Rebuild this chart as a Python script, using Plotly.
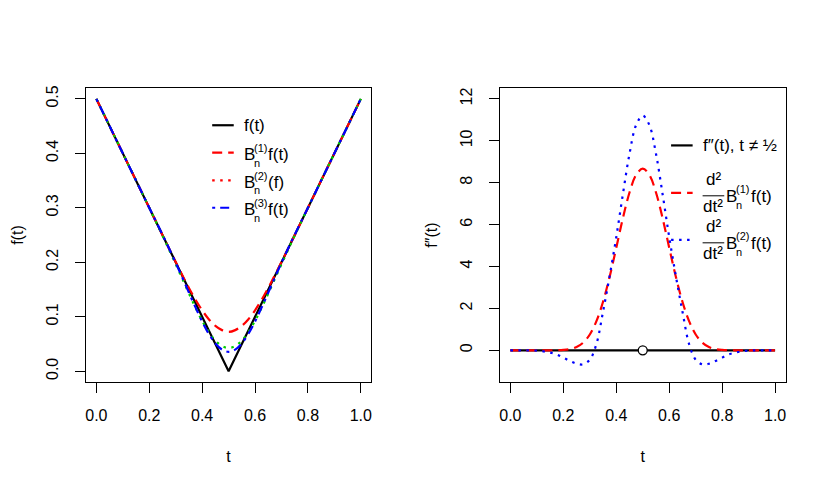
import plotly.graph_objects as go

# ---------------- data ----------------
t_f = [0.0, 0.5, 1.0]
f_vals = [0.5, 0.0, 0.5]

t_b = [0.0, 0.05, 0.1, 0.15, 0.2, 0.25, 0.275, 0.3, 0.325, 0.35, 0.375, 0.4, 0.425, 0.45, 0.475,
       0.5,
       0.525, 0.55, 0.575, 0.6, 0.625, 0.65, 0.675, 0.7, 0.725, 0.75, 0.8, 0.85, 0.9, 0.95, 1.0]
b1_vals = [0.5, 0.45, 0.4, 0.35, 0.3, 0.2501, 0.2251, 0.2005, 0.1763, 0.1530, 0.1313, 0.1119, 0.0956, 0.0833, 0.0755,
           0.0722,
           0.0755, 0.0833, 0.0956, 0.1119, 0.1313, 0.1530, 0.1763, 0.2005, 0.2251, 0.2501, 0.3, 0.35, 0.4, 0.45, 0.5]
b2_vals = [0.5, 0.45, 0.4, 0.35, 0.2999, 0.2491, 0.2230, 0.1965, 0.1696, 0.1427, 0.1167, 0.0928, 0.0722, 0.0563, 0.0462,
           0.0427,
           0.0462, 0.0563, 0.0722, 0.0928, 0.1167, 0.1427, 0.1696, 0.1965, 0.2230, 0.2491, 0.2999, 0.35, 0.4, 0.45, 0.5]
b3_vals = [0.5, 0.45, 0.4, 0.35, 0.3, 0.2509, 0.2254, 0.1993, 0.1721, 0.1444, 0.1172, 0.0914, 0.0688, 0.0511, 0.0398,
           0.0357,
           0.0398, 0.0511, 0.0688, 0.0914, 0.1172, 0.1444, 0.1721, 0.1993, 0.2254, 0.2509, 0.3, 0.35, 0.4, 0.45, 0.5]

t_d = [0.0, 0.025, 0.05, 0.075, 0.1, 0.125, 0.15, 0.175, 0.2, 0.225, 0.25, 0.275, 0.3, 0.325, 0.35, 0.375, 0.4, 0.425, 0.45, 0.475,
       0.5,
       0.525, 0.55, 0.575, 0.6, 0.625, 0.65, 0.675, 0.7, 0.725, 0.75, 0.775, 0.8, 0.825, 0.85, 0.875, 0.9, 0.925, 0.95, 0.975, 1.0]
d2b1_vals = [0.0, 0.0, 0.0, 0.0, 0.0, 0.0, 0.0007, 0.004, 0.017, 0.056, 0.154, 0.365, 0.755, 1.392, 2.316, 3.513, 4.896, 6.305, 7.532, 8.372,
             8.67,
             8.372, 7.532, 6.305, 4.896, 3.513, 2.316, 1.392, 0.755, 0.365, 0.154, 0.056, 0.017, 0.004, 0.0007, 0.0, 0.0, 0.0, 0.0, 0.0, 0.0]
d2b2_vals = [0.0, 0.0, 0.0, -0.005, -0.015, -0.05, -0.11, -0.2, -0.35, -0.51, -0.64, -0.67, -0.45, 0.3, 1.85, 3.55, 5.4, 7.45, 9.38, 10.75,
             11.2,
             10.75, 9.38, 7.45, 5.4, 3.55, 1.85, 0.3, -0.45, -0.67, -0.64, -0.51, -0.35, -0.2, -0.11, -0.05, -0.015, -0.005, 0.0, 0.0, 0.0]

t_zero = [0.0, 1.0]
f2_vals = [0.0, 0.0]
t_hole = [0.5]
hole_vals = [0.0]

x_ticks = [0.0, 0.2, 0.4, 0.6, 0.8, 1.0]
x_ticktext = ["0.0", "0.2", "0.4", "0.6", "0.8", "1.0"]
y1_ticks = [0.0, 0.1, 0.2, 0.3, 0.4, 0.5]
y1_ticktext = ["0.0", "0.1", "0.2", "0.3", "0.4", "0.5"]
y2_ticks = [0, 2, 4, 6, 8, 10, 12]
y2_ticktext = ["0", "2", "4", "6", "8", "10", "12"]

# ---------------- figure ----------------
W, H = 830, 487
FONT = "Liberation Sans, Arial, Helvetica, sans-serif"
FS = 16
LFS = 17
SFS = 11
LW = 2.2
DASH = "10px,6px"
DOT = "2.5px,5.5px"
DOTDASH = "3px,5px,9px,5px"


def px(x):
    return x / W


def py(y):
    return 1 - y / H


fig = go.Figure()

# left panel
fig.add_trace(go.Scatter(x=t_f, y=f_vals, mode="lines", line=dict(color="black", width=LW),
                         xaxis="x", yaxis="y", showlegend=False))
fig.add_trace(go.Scatter(x=t_b, y=b1_vals, mode="lines", line=dict(color="red", width=LW, dash=DASH, shape="spline"),
                         xaxis="x", yaxis="y", showlegend=False))
fig.add_trace(go.Scatter(x=t_b, y=b2_vals, mode="lines", line=dict(color="#00CD00", width=LW, dash=DOT, shape="spline"),
                         xaxis="x", yaxis="y", showlegend=False))
fig.add_trace(go.Scatter(x=t_b, y=b3_vals, mode="lines", line=dict(color="blue", width=LW, dash=DOTDASH, shape="spline"),
                         xaxis="x", yaxis="y", showlegend=False))

# right panel
fig.add_trace(go.Scatter(x=t_zero, y=f2_vals, mode="lines", line=dict(color="black", width=LW),
                         xaxis="x2", yaxis="y2", showlegend=False))
fig.add_trace(go.Scatter(x=t_d, y=d2b1_vals, mode="lines", line=dict(color="red", width=LW, dash=DASH, shape="spline"),
                         xaxis="x2", yaxis="y2", showlegend=False))
fig.add_trace(go.Scatter(x=t_d, y=d2b2_vals, mode="lines", line=dict(color="blue", width=LW, dash=DOT, shape="spline"),
                         xaxis="x2", yaxis="y2", showlegend=False))
fig.add_trace(go.Scatter(x=t_hole, y=hole_vals, mode="markers",
                         marker=dict(symbol="circle", size=9, color="white", line=dict(color="black", width=1.3)),
                         xaxis="x2", yaxis="y2", showlegend=False))

axis_common = dict(showgrid=False, zeroline=False, showline=True, mirror=True, linecolor="black", linewidth=1,
                   ticks="outside", ticklen=10, tickwidth=1, tickcolor="black",
                   tickfont=dict(family=FONT, size=FS, color="black"))

ydom = [(H - 381.5) / H, (H - 85.5) / H]

fig.update_layout(
    width=W, height=H, autosize=False,
    margin=dict(l=0, r=0, t=0, b=0, pad=0),
    paper_bgcolor="white", plot_bgcolor="white",
    font=dict(family=FONT, size=FS, color="black"),
    showlegend=False,
    xaxis=dict(domain=[85 / W, 371.3 / W], range=[-0.04, 1.04], tickvals=x_ticks, ticktext=x_ticktext,
               ticklabelstandoff=9,
               title=dict(text="t", standoff=27, font=dict(family=FONT, size=FS, color="black")),
               anchor="y", **axis_common),
    yaxis=dict(domain=ydom, range=[-0.02, 0.52], tickvals=y1_ticks, ticktext=y1_ticktext, tickangle=-90,
               ticklabelstandoff=10,
               title=dict(text="f(t)", standoff=16, font=dict(family=FONT, size=FS, color="black")),
               anchor="x", **axis_common),
    xaxis2=dict(domain=[500 / W, 786.6 / W], range=[-0.04, 1.04], tickvals=x_ticks, ticktext=x_ticktext,
                ticklabelstandoff=9,
                title=dict(text="t", standoff=27, font=dict(family=FONT, size=FS, color="black")),
                anchor="y2", **axis_common),
    yaxis2=dict(domain=ydom, range=[-1.52, 12.52], tickvals=y2_ticks, ticktext=y2_ticktext, tickangle=-90,
                ticklabelstandoff=10,
                title=dict(text="f\u2033(t)", standoff=16, font=dict(family=FONT, size=FS, color="black")),
                anchor="x2", **axis_common),
)

shapes = []
annotations = []


def seg(x0, x1, y, color, dash):
    shapes.append(dict(type="line", xref="paper", yref="paper", x0=px(x0), x1=px(x1), y0=py(y), y1=py(y),
                       line=dict(color=color, width=LW, dash=dash)))


def txt(x, y, s, size=LFS, anchor="left"):
    annotations.append(dict(xref="paper", yref="paper", x=px(x), y=py(y), text=s, showarrow=False,
                            xanchor=anchor, yanchor="middle", borderpad=0,
                            font=dict(family=FONT, size=size, color="black")))


# left legend
lx0, lx1, tx = 211.7, 233.3, 242.5
rows = [123.0, 150.5, 178.5, 206.0]
seg(lx0, lx1, rows[0], "black", "solid")
txt(tx, rows[0], "f(t)")
legend_rows = [("(1)", "f(t)", "red", DASH), ("(2)", "(f)", "red", DOT), ("(3)", "f(t)", "blue", DOTDASH)]
for L, (sup, tail, col, dsh) in zip(rows[1:], legend_rows):
    seg(lx0, lx1, L, col, dsh)
    txt(tx, L + 2, "B")
    txt(252.5, L - 4.5, sup, size=SFS)
    txt(252.5, L + 10, "n", size=SFS)
    txt(266.5, L + 2, tail)

# right legend
rx0, rx1 = 671.7, 693.3
R1, R2, R3 = 143.3, 191.0, 238.3
seg(rx0, rx1, R1, "black", "solid")
txt(703.0, R1, "f\u2033(t), t \u2260 \u00bd")
for L, sup, col, dsh in [(R2, "(1)", "red", DASH), (R3, "(2)", "blue", DOT)]:
    seg(rx0, rx1, L, col, dsh)
    txt(714.0, L - 13.5, "d\u00b2", anchor="center")
    shapes.append(dict(type="line", xref="paper", yref="paper", x0=px(703.3), x1=px(725.0), y0=py(L + 3), y1=py(L + 3),
                       line=dict(color="black", width=1)))
    txt(714.0, L + 13.5, "dt\u00b2", anchor="center")
    txt(725.5, L + 4, "B")
    txt(736.0, L - 3.5, sup, size=SFS)
    txt(736.0, L + 12.5, "n", size=SFS)
    txt(750.5, L + 4, "f(t)")

fig.update_layout(shapes=shapes, annotations=annotations)

fig.write_html("out.html", config={"displayModeBar": False},
               post_script="document.body.style.margin='0';")
